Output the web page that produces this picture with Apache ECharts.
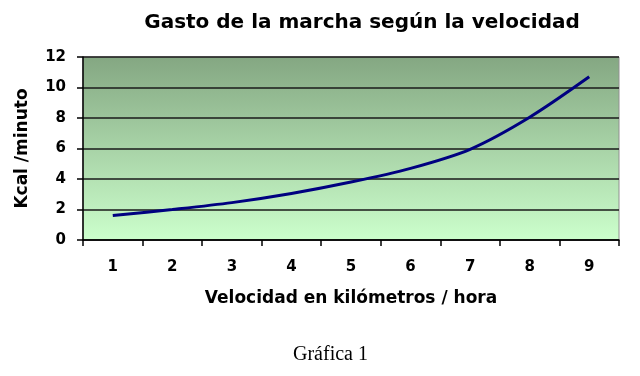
<!DOCTYPE html>
<html>
<head>
<meta charset="utf-8">
<script src="https://cdn.jsdelivr.net/npm/echarts@6/dist/echarts.min.js"></script>
<style>
html,body{margin:0;padding:0;background:#fff;}
#c{width:640px;height:376px;}
</style>
</head>
<body>
<div id="c"></div>
<script>
var categories = ['1','2','3','4','5','6','7','8','9'];
var kcalValues = [1.6, 2.0, 2.45, 3.05, 3.8, 4.7, 5.95, 8.05, 10.7];
var yTicks = [0, 2, 4, 6, 8, 10, 12];

var SANS = '"DejaVu Sans", Verdana, sans-serif';
var chart = echarts.init(document.getElementById('c'), null, {renderer:'canvas'});
var option = {
  animation: false,
  backgroundColor: '#ffffff',
  title: {
    text: 'Gasto de la marcha según la velocidad',
    left: 357, top: 8, textAlign: 'center',
    textStyle: {fontFamily: SANS, fontWeight: 'bold', fontSize: 20, color: '#000'}
  },
  graphic: [{
    type: 'text', left: 293, top: 345,
    style: {text: 'Gráfica 1', font: '20px "Liberation Serif", "Times New Roman", serif', fill: '#000'}
  }],
  grid: {
    left: 83, right: 21, top: 57, bottom: 136,
    show: true,
    borderColor: '#909090', borderWidth: 1,
    backgroundColor: new echarts.graphic.LinearGradient(0, 0, 0, 1, [
      {offset: 0, color: '#84a782'},
      {offset: 1, color: '#ccffcc'}
    ])
  },
  xAxis: {
    type: 'category',
    data: categories,
    boundaryGap: true,
    name: 'Velocidad en kilómetros / hora',
    nameLocation: 'middle', nameGap: 50,
    nameTextStyle: {fontFamily: SANS, fontWeight: 'bold', fontSize: 17, color: '#000'},
    axisLine: {show: true, lineStyle: {color: '#000', width: 1.5}},
    axisTick: {show: true, length: 6, inside: false, lineStyle: {color: '#000', width: 1.5}},
    axisLabel: {margin: 20, fontFamily: SANS, fontWeight: 'bold', fontSize: 15, color: '#000'},
    splitLine: {show: false}
  },
  yAxis: {
    type: 'value',
    min: yTicks[0], max: yTicks[yTicks.length - 1], interval: 2,
    name: 'Kcal /minuto',
    nameLocation: 'middle', nameGap: 52, nameRotate: 90,
    nameTextStyle: {fontFamily: SANS, fontWeight: 'bold', fontSize: 17, color: '#000'},
    axisLine: {show: true, lineStyle: {color: '#000', width: 1.5}},
    axisTick: {show: true, length: 6, lineStyle: {color: '#000', width: 1.5}},
    axisLabel: {margin: 17, fontFamily: SANS, fontWeight: 'bold', fontSize: 15, color: '#000'},
    splitLine: {show: true, lineStyle: {color: '#1a1a1a', width: 1.5}}
  },
  series: [{
    type: 'line',
    data: kcalValues,
    smooth: 0.3,
    symbol: 'none',
    lineStyle: {color: '#000080', width: 3}
  }]
};
chart.setOption(option);
</script>
</body>
</html>
